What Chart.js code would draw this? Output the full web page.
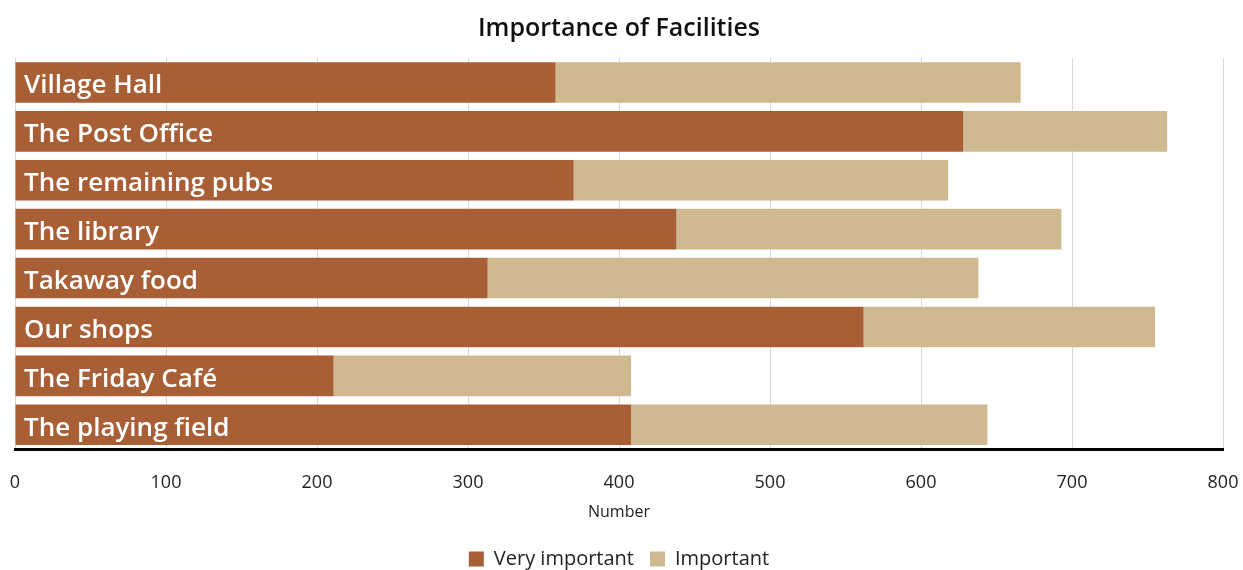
<!DOCTYPE html>
<html>
<head>
<meta charset="utf-8">
<script src="https://cdn.jsdelivr.net/npm/chart.js@4.4.1/dist/chart.umd.min.js"></script>
<style>
  html, body { margin: 0; padding: 0; background: #fff; }
  #wrap { width: 1243px; height: 570px; position: relative; }
</style>
</head>
<body>
<div id="wrap"><canvas id="facilitiesChart"></canvas></div>
<script>
// ── DATA ──
const categories = [
    'Village Hall',
    'The Post Office',
    'The remaining pubs',
    'The library',
    'Takaway food',
    'Our shops',
    'The Friday Café',
    'The playing field'
];
const veryImportant = [358, 628, 370, 438, 313, 562, 211, 408];
const important     = [308, 135, 248, 255, 325, 193, 197, 236];
const xTicks        = [0, 100, 200, 300, 400, 500, 600, 700, 800];

const FONT = "'Open Sans', 'Noto Sans', sans-serif";

// category names drawn inside the bars (white, left aligned)
const barLabels = {
    id: 'barLabels',
    afterDatasetsDraw(chart) {
        const { ctx, chartArea, scales } = chart;
        ctx.save();
        ctx.fillStyle = '#ffffff';
        ctx.font = `600 26px ${FONT}`;
        ctx.textAlign = 'left';
        ctx.textBaseline = 'alphabetic';
        categories.forEach((name, i) => {
            const y = scales.y.getPixelForValue(i);
            ctx.fillText(name, chartArea.left + 9, y + 11);
        });
        ctx.restore();
    }
};

new Chart(document.getElementById('facilitiesChart'), {
    type: 'bar',
    data: {
        labels: categories,
        datasets: [
            {
                label: 'Very important',
                data: veryImportant,
                backgroundColor: '#a95f35',
                borderWidth: 0,
                categoryPercentage: 1,
                barPercentage: 0.83
            },
            {
                label: 'Important',
                data: important,
                backgroundColor: '#cfb991',
                borderWidth: 0,
                categoryPercentage: 1,
                barPercentage: 0.83
            }
        ]
    },
    options: {
        indexAxis: 'y',
        responsive: true,
        maintainAspectRatio: false,
        animation: false,
        layout: { padding: { left: 15, right: 20, top: 0, bottom: -9 } },
        plugins: {
            title: {
                display: true,
                text: 'Importance of Facilities',
                color: '#111',
                font: { family: FONT, size: 25, weight: '600' },
                padding: { top: 14, bottom: 14 }
            },
            legend: {
                position: 'bottom',
                labels: {
                    color: '#222',
                    font: { family: FONT, size: 20 },
                    boxWidth: 15,
                    boxHeight: 15,
                    padding: 16
                }
            },
            tooltip: { enabled: false }
        },
        scales: {
            x: {
                stacked: true,
                min: 0,
                max: 800,
                afterBuildTicks(axis) {
                    axis.ticks = xTicks.map(v => ({ value: v }));
                },
                grid: {
                    color: '#d9d9d9',
                    lineWidth: 1,
                    drawTicks: true,
                    tickLength: 20,
                    tickColor: 'rgba(0,0,0,0)'
                },
                border: { display: true, color: '#000', width: 3 },
                ticks: {
                    color: '#222',
                    font: { family: FONT, size: 18 },
                    padding: 3
                },
                title: {
                    display: true,
                    text: 'Number',
                    color: '#222',
                    font: { family: FONT, size: 16 },
                    padding: { top: 6, bottom: 11 }
                }
            },
            y: {
                stacked: true,
                display: false
            }
        }
    },
    plugins: [barLabels]
});
</script>
</body>
</html>
